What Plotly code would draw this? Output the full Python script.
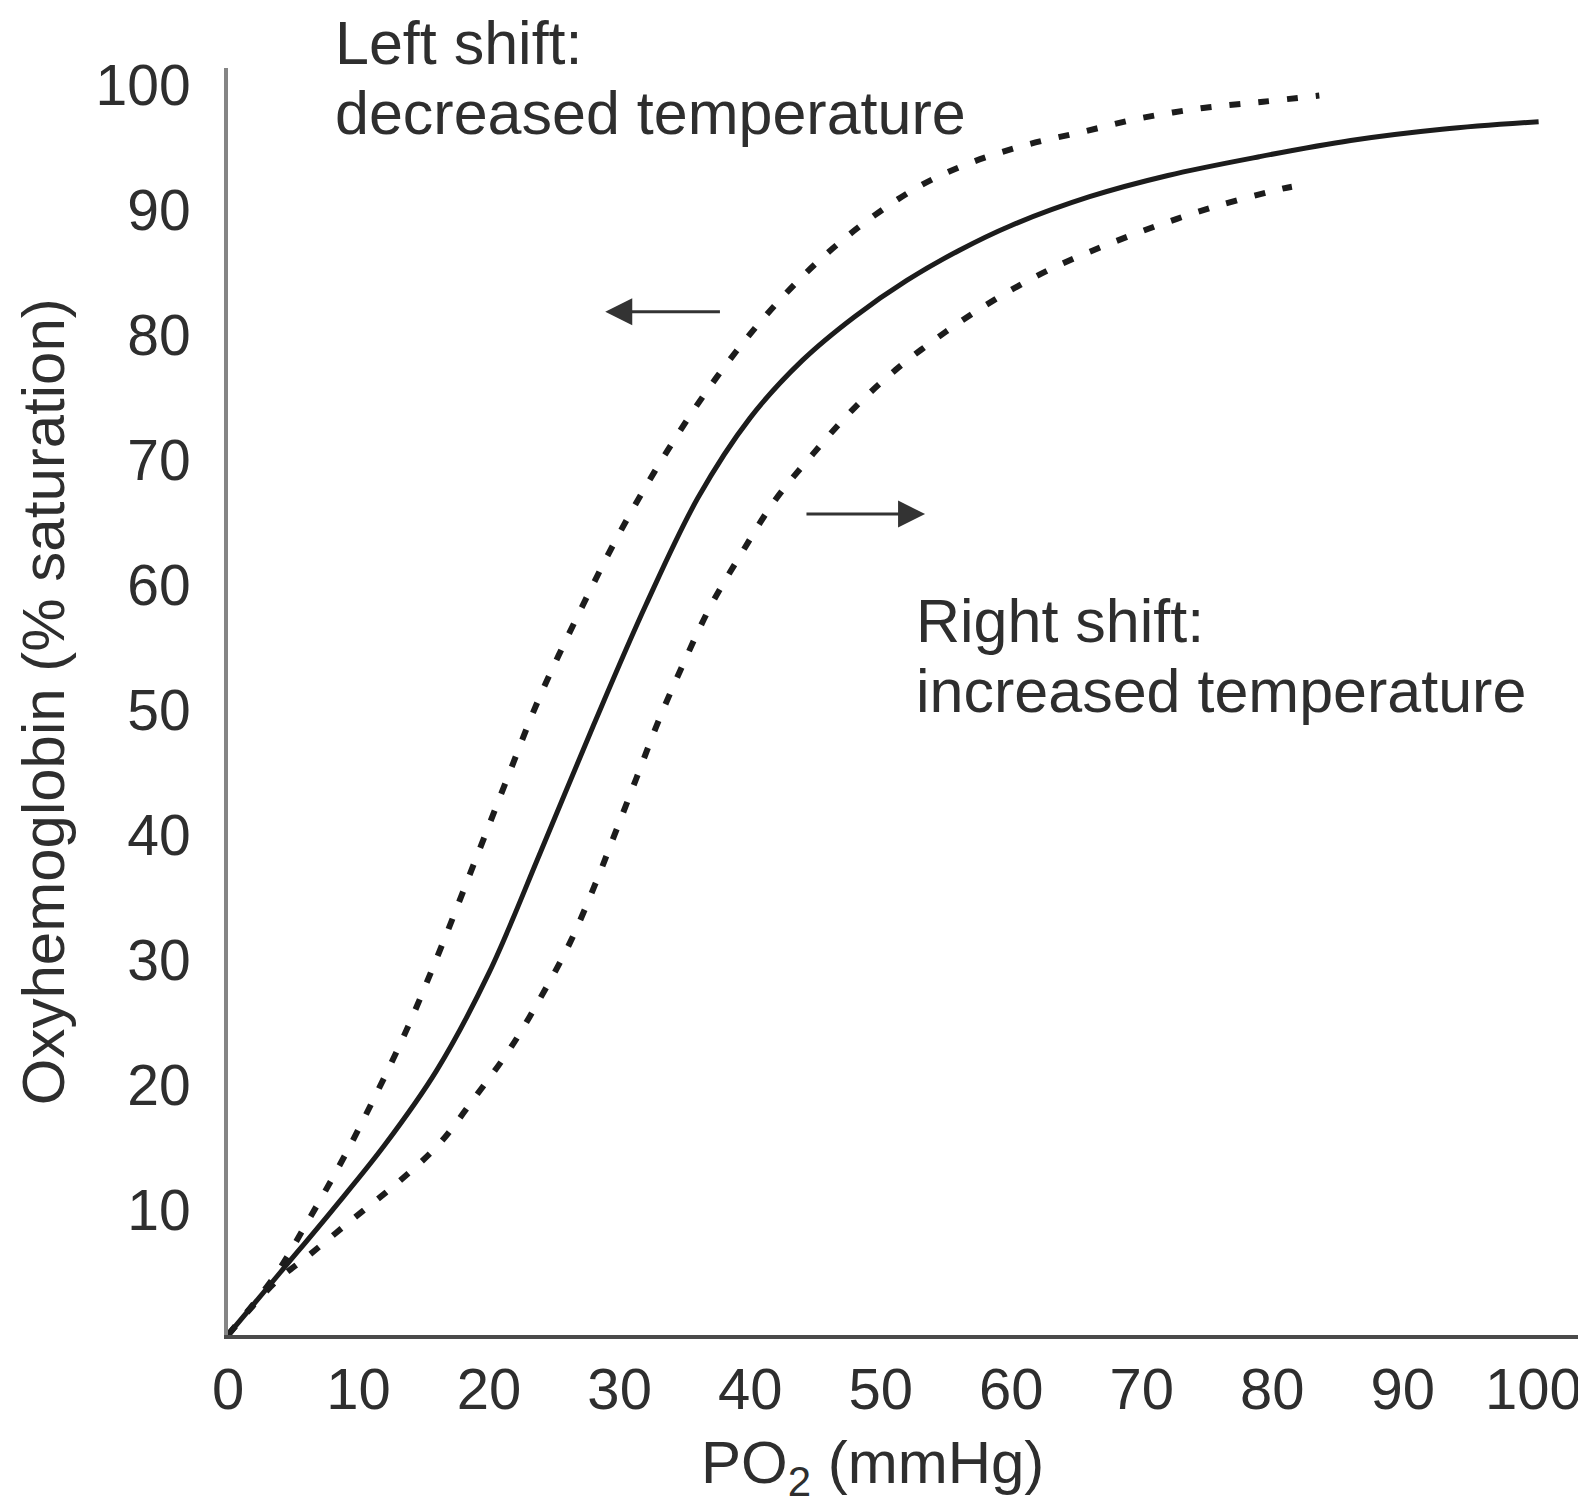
import plotly.graph_objects as go

# ---- data ----
normal_x = [0, 4, 8, 12, 16, 20, 24, 28, 32, 36, 40, 44, 48, 52, 56, 60,
            66, 72, 79, 86, 93, 100.4]
normal_y = [0, 5.0, 10.0, 15.2, 21.2, 29.0, 38.8, 48.8, 58.4, 67.0, 73.4, 78.0, 81.5, 84.4, 86.8, 88.8,
            91.1, 92.8, 94.3, 95.6, 96.5, 97.1]

left_x = [0, 3.7, 6.0, 8.4, 10.5, 13.5, 16.2, 18.8, 21.3, 23.85, 26.9, 30.0,
          33.5, 37.4, 41.8, 46.7, 52.4, 56.6, 61.0, 65.5, 70.0, 74.7, 79.3, 83.6]
left_y = [0, 4.9, 8.9, 13.3, 17.5, 24.0, 30.7, 37.6, 44.3, 51.0, 57.8, 64.2,
          70.5, 76.6, 82.3, 87.3, 91.6, 93.7, 95.2, 96.3, 97.4, 98.2, 98.7, 99.2]

right_x = [0, 3.6, 6.1, 9.7, 13.0, 16.1, 18.9, 21.6, 24.0, 26.2, 28.1, 29.6, 31.3,
           33.0, 35.0, 37.0, 39.3, 41.9, 44.8, 47.8, 51.1, 55.0, 58.8, 62.8, 67.2,
           71.5, 75.9, 80.6, 81.5]
right_y = [0, 4.2, 6.3, 9.4, 12.2, 15.2, 19.0, 22.9, 27.1, 31.4, 36.0, 40.0, 44.6,
           49.2, 54.0, 58.4, 62.5, 66.8, 70.5, 74.0, 77.2, 80.3, 82.9, 85.2, 87.2,
           88.9, 90.4, 91.7, 91.9]

x_ticks = [0, 10, 20, 30, 40, 50, 60, 70, 80, 90, 100]
y_ticks = [10, 20, 30, 40, 50, 60, 70, 80, 90, 100]

x_title = "PO<sub>2</sub> (mmHg)"
y_title = "Oxyhemoglobin (% saturation)"
left_label = ["Left shift:", "decreased temperature"]
right_label = ["Right shift:", "increased temperature"]

FONT = "Liberation Sans, Arial, Helvetica, sans-serif"
INK = "#1c1c1c"
TXT = "#2e2e2e"

fig = go.Figure()
dash_line = dict(color=INK, width=6, dash="11px,18px", shape="spline", smoothing=1.0)
fig.add_trace(go.Scatter(x=left_x, y=left_y, mode="lines", line=dash_line,
                         showlegend=False, hoverinfo="skip"))
fig.add_trace(go.Scatter(x=right_x, y=right_y, mode="lines", line=dash_line,
                         showlegend=False, hoverinfo="skip"))
fig.add_trace(go.Scatter(x=normal_x, y=normal_y, mode="lines",
                         line=dict(color=INK, width=5, shape="spline", smoothing=1.0),
                         showlegend=False, hoverinfo="skip"))

annotations = []
# shift arrows
annotations.append(dict(x=28.9, y=81.9, ax=37.8, ay=81.9, xref="x", yref="y", axref="x", ayref="y",
                        text="", showarrow=True, arrowhead=2, arrowsize=1.8, arrowwidth=3,
                        arrowcolor="#333333"))
annotations.append(dict(x=53.4, y=65.7, ax=44.2, ay=65.7, xref="x", yref="y", axref="x", ayref="y",
                        text="", showarrow=True, arrowhead=2, arrowsize=1.8, arrowwidth=3,
                        arrowcolor="#333333"))
# labels (paper coordinates so they may sit above the plot area)
for txt, yy in zip(left_label, [1.0197, 0.9645]):
    annotations.append(dict(x=0.0775, y=yy, xref="paper", yref="paper", text=txt, showarrow=False,
                            xanchor="left", yanchor="middle",
                            font=dict(family=FONT, size=61, color=TXT)))
for txt, yy in zip(right_label, [0.5635, 0.5083]):
    annotations.append(dict(x=0.5065, y=yy, xref="paper", yref="paper", text=txt, showarrow=False,
                            xanchor="left", yanchor="middle",
                            font=dict(family=FONT, size=61, color=TXT)))
# axis titles
annotations.append(dict(x=0.476, y=-0.104, xref="paper", yref="paper", text=x_title,
                        showarrow=False, xanchor="center", yanchor="middle",
                        font=dict(family=FONT, size=60, color=TXT)))
annotations.append(dict(x=-0.136, y=0.5, xref="paper", yref="paper", text=y_title,
                        showarrow=False, xanchor="center", yanchor="middle", textangle=-90,
                        font=dict(family=FONT, size=60, color=TXT)))

fig.update_layout(
    width=1586, height=1504,
    margin=dict(l=220, r=11, t=60, b=177),
    paper_bgcolor="white", plot_bgcolor="white",
    annotations=annotations,
    xaxis=dict(range=[0, 103.8], tickvals=x_ticks, ticktext=[str(v) for v in x_ticks],
               showgrid=False, zeroline=False, showline=True, linecolor="#4a4a4a", linewidth=4,
               ticks="", ticklabelstandoff=0,
               tickfont=dict(family=FONT, size=58, color=TXT)),
    yaxis=dict(range=[0, 101.4], tickvals=y_ticks, ticktext=[str(v) for v in y_ticks],
               showgrid=False, zeroline=False, showline=True, linecolor="#858585", linewidth=4,
               ticks="", ticklabelstandoff=22,
               tickfont=dict(family=FONT, size=57, color=TXT)),
)

fig.write_html("out.html")
